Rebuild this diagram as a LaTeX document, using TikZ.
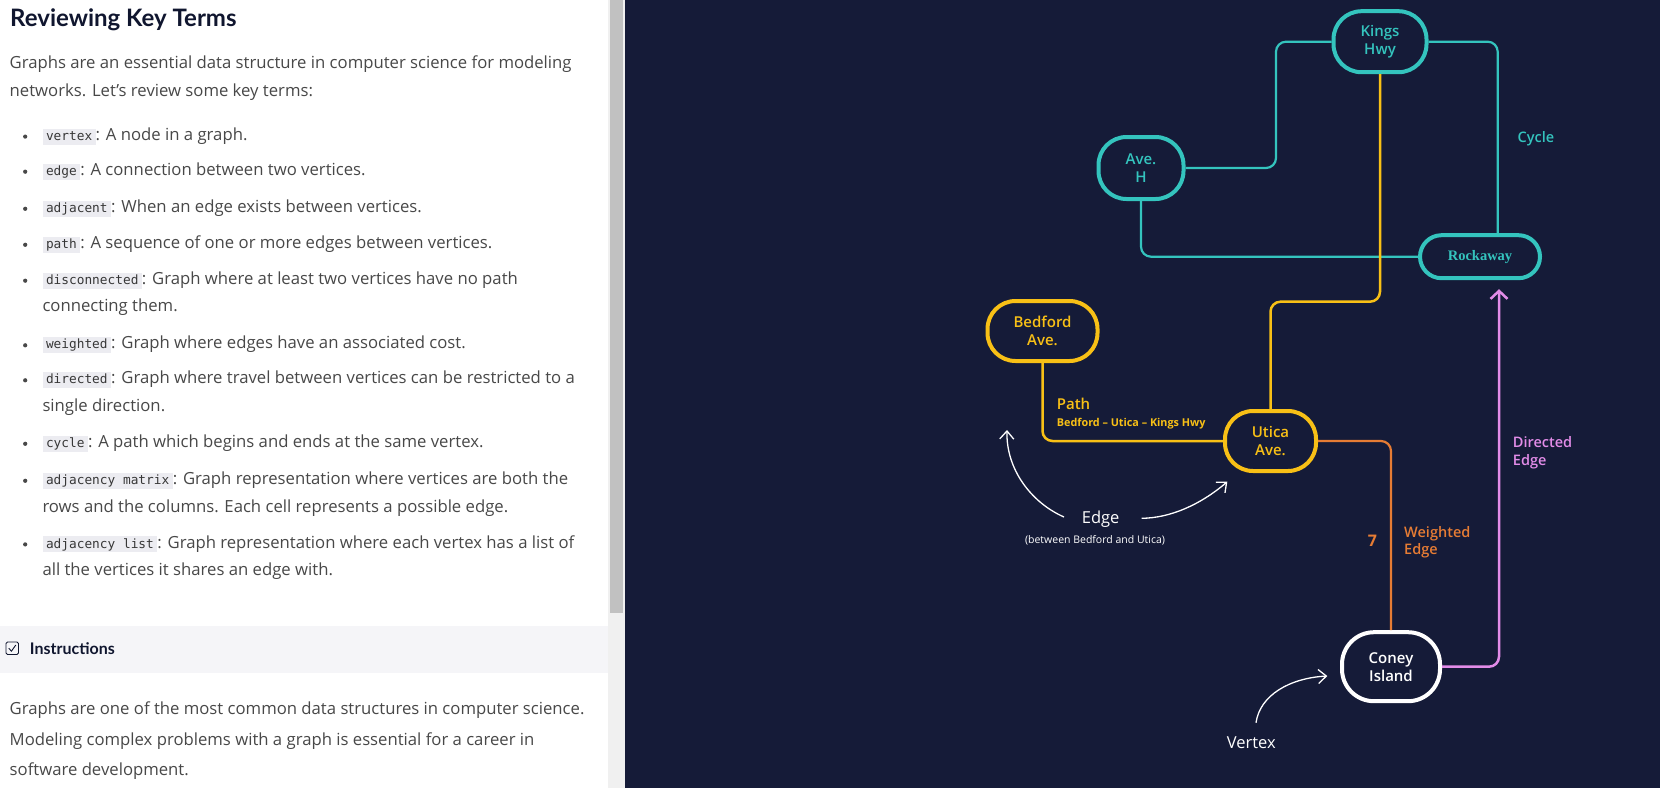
\documentclass[tikz,border=0pt]{standalone}
\usepackage{fontspec}
\setmainfont{Open Sans}
\newfontfamily\titlefont{Lato}
\newfontfamily\dsans{Open Sans}
\IfFontExistsTF{Open Sans Semibold}{\newfontfamily\dsemi{Open Sans Semibold}}{\newfontfamily\dsemi{Open Sans}[FakeBold=1.5]}
\newfontfamily\dserif{Liberation Serif}
\newfontfamily\codefont{DejaVu Sans Mono}
\usetikzlibrary{arrows.meta,calc}
\definecolor{navy}{RGB}{21,27,56}
\definecolor{tealc}{RGB}{52,196,190}
\definecolor{yellowc}{RGB}{248,192,22}
\definecolor{orangec}{RGB}{230,124,52}
\definecolor{pinkc}{RGB}{226,140,232}
\definecolor{bodytext}{RGB}{72,72,72}
\definecolor{titlec}{RGB}{16,22,47}
\definecolor{codebg}{RGB}{236,236,241}
\definecolor{codefg}{RGB}{55,55,55}
\definecolor{barbg}{RGB}{245,245,248}
\definecolor{trackc}{RGB}{240,240,240}
\definecolor{thumbc}{RGB}{193,193,193}
\newcommand\codeterm[1]{\begingroup\setlength{\fboxsep}{0pt}\colorbox{codebg}{\rule[-4.3pt]{0pt}{16pt}\hspace{3.5pt}{\codefont\fontsize{12.8}{14}\selectfont\color{codefg}#1}\hspace{3.5pt}}\endgroup}
\begin{document}
\begin{tikzpicture}[x=1pt,y=-1pt,
  body/.style={anchor=base west, inner sep=0pt, text=bodytext, font=\fontsize{16.7}{20}\selectfont},
  bul/.style={fill=bodytext},
  vtx/.style={draw, line width=4pt, fill=navy, rounded corners=28pt, align=center, inner sep=0pt, font=\dsemi\fontsize{15}{18}\selectfont},
  tealv/.style={vtx, draw=tealc, text=tealc},
  yelv/.style={vtx, draw=yellowc, text=yellowc},
  whitev/.style={vtx, draw=white, text=white},
  conn/.style={line width=2.2pt, rounded corners=10pt},
  lbl/.style={anchor=base west, inner sep=0pt, font=\dsemi\fontsize{14.5}{17.3}\selectfont, align=left},
  note/.style={anchor=base west, inner sep=0pt, text=white, font=\dsans\fontsize{16.5}{19}\selectfont},
  hand/.style={draw=white, line width=1.3pt, -{Straight Barb[length=8pt,width=14pt,line width=1.3pt]}}
]
\useasboundingbox (0,0) rectangle (1660,788);
% panels
\fill[white] (0,0) rectangle (608,788);
\fill[trackc] (608,0) rectangle (625,788);
\fill[thumbc] (610,0) rectangle (623,613);
\fill[navy] (625,0) rectangle (1660,788);
\fill[barbg] (0,626) rectangle (608,673);

% left text
\node[body, text=titlec, font=\titlefont\bfseries\fontsize{24}{28}\selectfont] (title) at (10,26.7) {Reviewing Key Terms};
\node[body] (p1) at (9.5,68.3) {Graphs are an essential data structure in computer science for modeling};
\node[body] (p2) at (9.5,96.7) {networks. Let’s review some key terms:};

\foreach \yy in {140.2,175.3,212.4,248.4,284.3,348.9,383.9,447.4,484.4,548}
  \fill[bul] (25.2,\yy-3.6) circle (2.1);

\node[body] (b1) at (42.3,140.2) {\codeterm{vertex}: A node in a graph.};
\node[body] (b2) at (42.3,175.3) {\codeterm{edge}: A connection between two vertices.};
\node[body] (b3) at (42.3,212.4) {\codeterm{adjacent}: When an edge exists between vertices.};
\node[body] (b4) at (42.3,248.4) {\codeterm{path}: A sequence of one or more edges between vertices.};
\node[body] (b5) at (42.3,284.3) {\codeterm{disconnected}: Graph where at least two vertices have no path};
\node[body] (b5b) at (42.3,311.9) {connecting them.};
\node[body] (b6) at (42.3,348.9) {\codeterm{weighted}: Graph where edges have an associated cost.};
\node[body] (b7) at (42.3,383.9) {\codeterm{directed}: Graph where travel between vertices can be restricted to a};
\node[body] (b7b) at (42.3,411.4) {single direction.};
\node[body] (b8) at (42.3,447.4) {\codeterm{cycle}: A path which begins and ends at the same vertex.};
\node[body] (b9) at (42.3,484.4) {\codeterm{adjacency matrix}: Graph representation where vertices are both the};
\node[body] (b9b) at (42.3,512) {rows and the columns. Each cell represents a possible edge.};
\node[body] (b10) at (42.3,548) {\codeterm{adjacency list}: Graph representation where each vertex has a list of};
\node[body] (b10b) at (42.3,575.5) {all the vertices it shares an edge with.};

% instructions bar
\draw[titlec, line width=0.9pt, rounded corners=1.5pt] (6,642) rectangle (18.5,654.5);
\draw[titlec, line width=0.9pt] (8.8,648.2) -- (11.4,651.2) -- (15.8,645);
\node[body, text=titlec, font=\titlefont\bfseries\fontsize{16}{18}\selectfont] (instr) at (29.7,654) {Instructions};
\node[body] (q1) at (9.5,714.6) {Graphs are one of the most common data structures in computer science.};
\node[body] (q2) at (9.5,745.3) {Modeling complex problems with a graph is essential for a career in};
\node[body] (q3) at (9.5,775) {software development.};

% graph nodes
\node[tealv, minimum width=93pt, minimum height=61pt] (kings) at (1380,41.7) {Kings\\Hwy};
\node[tealv, minimum width=85pt, minimum height=62pt] (aveh) at (1141,168) {Ave.\\H};
\node[tealv, minimum width=120pt, minimum height=43pt, rounded corners=21.5pt, font=\dserif\bfseries\fontsize{14.5}{15}\selectfont] (rock) at (1480,256.7) {Rockaway};
\node[yelv, minimum width=110pt, minimum height=60pt] (bedford) at (1042.5,331) {Bedford\\Ave.};
\node[yelv, minimum width=91pt, minimum height=60pt] (utica) at (1270.5,441) {Utica\\Ave.};
\node[whitev, minimum width=98pt, minimum height=69pt, rounded corners=32pt] (coney) at (1391,666.7) {Coney\\Island};

% connectors
\coordinate (kbend) at (1276,0);
\coordinate (ybend) at (1270.5,301.7);
\draw[conn, tealc] (kings.west) -| (kbend |- aveh.east) -- (aveh.east);
\draw[conn, tealc] (kings.east) -| ($(rock.north)+(17.7,0)$);
\draw[conn, tealc] (aveh.south) |- (rock.west);
\draw[conn, yellowc, line width=2.5pt] (kings.south) |- (ybend) -- (utica.north);
\draw[conn, yellowc, line width=2.5pt] (bedford.south) |- (utica.west);
\draw[conn, orangec] (utica.east) -| (coney.north);
\coordinate (dtip) at ($(rock.south)+(19,9)$);
\draw[conn, pinkc, line width=2.5pt, -{Straight Barb[length=8pt,width=17pt,line width=2.5pt]}] (coney.east) -| (dtip);

% labels
\node[lbl, text=tealc, anchor=base] (cyc) at (1536,142) {Cycle};
\node[lbl, text=yellowc, font=\dsemi\fontsize{15}{17}\selectfont] (pathl) at (1056.7,409) {Path};
\node[lbl, text=yellowc, font=\dsans\bfseries\fontsize{10.8}{13}\selectfont] (pathd) at (1056.7,426.7) {Bedford – Utica – Kings Hwy};
\node[lbl, text=orangec, font=\dsans\bfseries\fontsize{16}{18}\selectfont, anchor=base] (wt) at (1372.5,546.7) {7};
\node[lbl, text=orangec] (wl) at (1404,554.5) {Weighted\\Edge};
\node[lbl, text=pinkc] (dl) at (1512.7,465) {Directed\\Edge};
\node[note] (edgel) at (1081.7,523) {Edge};
\node[note, anchor=base, font=\dsans\fontsize{10.5}{12}\selectfont] (edged) at (1095,543) {(between Bedford and Utica)};
\node[note] (vertl) at (1226.7,748.3) {Vertex};

% hand arrows
\coordinate (e1s) at (1064,517);
\coordinate (e1t) at (1007,430);
\coordinate (e2s) at (1141.7,518.3);
\coordinate (e2t) at (1227.3,481.7);
\coordinate (v1s) at (1256,722.7);
\coordinate (v1t) at (1327.3,676);
\draw[hand] (e1s) .. controls (1032,503) and (1006,470) .. (e1t);
\draw[hand] (e2s) .. controls (1170,518) and (1200,505) .. (e2t);
\draw[hand] (v1s) .. controls (1260,695) and (1290,678) .. (v1t);
\end{tikzpicture}
\end{document}
